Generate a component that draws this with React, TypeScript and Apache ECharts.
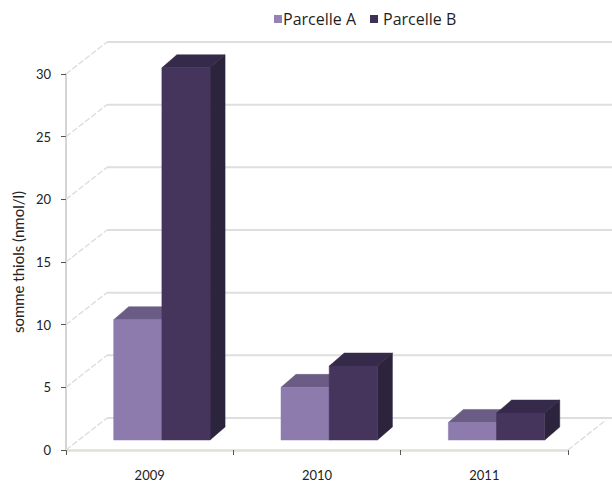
import React, { useEffect, useRef } from "react";
import * as echarts from "echarts";

const categories = ["2009", "2010", "2011"];
const parcelleA = [9.6, 4.2, 1.4];
const parcelleB = [29.7, 5.9, 2.15];
const wallTicks = [0, 5, 10, 15, 20, 25, 30];

// Offsets of the pseudo-3D projection, in pixels
const WALL_DX = 41;
const WALL_DY = 32;
const BAR_DX = 15;
const BAR_DY = 13;
const BAR_LIFT = 10;

const palette = {
  A: { front: "#8C7BAC", top: "#6B5C86", side: "#5A4C73", swatch: "#9484B4" },
  B: { front: "#45355C", top: "#352A4A", side: "#2C243C", swatch: "#3F3056" },
};

const poly = (points: number[][], fill: string) => ({
  type: "polygon",
  shape: { points },
  style: { fill, stroke: fill, lineWidth: 0.5 },
});

// Draws one cuboid; slot 0 is the left bar of a category, slot 1 the right one
const barRenderer = (slot: number, colors: typeof palette.A) => (_: any, api: any) => {
  const cat = api.value(0);
  const val = api.value(1);
  const band = api.size([1, 0])[0];
  const w = band * 0.288;
  const [cx, y0] = api.coord([cat, 0]);
  const [, yv] = api.coord([cat, val]);
  const left = cx - band * 0.215 + slot * w;
  const right = left + w;
  const base = y0 - BAR_LIFT;
  const top = yv - BAR_LIFT;
  return {
    type: "group",
    children: [
      poly([[left, top], [left + BAR_DX, top - BAR_DY], [right + BAR_DX, top - BAR_DY], [right, top]], colors.top),
      poly([[right, top], [right + BAR_DX, top - BAR_DY], [right + BAR_DX, base - BAR_DY], [right, base]], colors.side),
      poly([[left, top], [right, top], [right, base], [left, base]], colors.front),
    ],
  };
};

// Back wall and floor lines of the chart box
const wallRenderer = (params: any, api: any) => {
  const v = api.value(0);
  const cs = params.coordSys;
  const right = cs.x + cs.width;
  const [, y] = api.coord([0, v]);
  const children: any[] = [
    {
      type: "line",
      shape: { x1: cs.x, y1: y, x2: cs.x + WALL_DX, y2: y - WALL_DY },
      style: { stroke: "#DEDEDE", lineWidth: 1.4, lineDash: [6, 2] },
    },
    {
      type: "line",
      shape: { x1: cs.x + WALL_DX, y1: y - WALL_DY, x2: right + WALL_DX + 3, y2: y - WALL_DY },
      style: { stroke: "#DEDEDE", lineWidth: 2 },
    },
  ];
  if (v === 0) {
    children.push({
      type: "line",
      shape: { x1: right, y1: y, x2: right + WALL_DX - 3, y2: y - WALL_DY + 2 },
      style: { stroke: "#DEDEDE", lineWidth: 1.4, lineDash: [6, 2] },
    });
  }
  return { type: "group", children };
};

const legendBase = {
  top: 11,
  padding: 0,
  icon: "rect",
  itemWidth: 8,
  itemHeight: 8,
};
const legendFont = { fontFamily: "Open Sans", fontSize: 16, color: "#1F1F1F" };

export default function App() {
  const ref = useRef<HTMLDivElement>(null);

  useEffect(() => {
    const chart = echarts.init(ref.current!, null, { renderer: "svg" });
    chart.setOption({
      animation: false,
      backgroundColor: "#FFFFFF",
      textStyle: { fontFamily: "Lato" },
      grid: { left: 66, right: 44, top: 74, bottom: 33 },
      legend: [
        {
          ...legendBase,
          left: 274,
          data: [{ name: "Parcelle A", itemStyle: { color: palette.A.swatch } }],
          textStyle: { ...legendFont, padding: [0, 0, 0, -4] },
        },
        {
          ...legendBase,
          left: 370,
          data: [{ name: "Parcelle B", itemStyle: { color: palette.B.swatch } }],
          textStyle: legendFont,
        },
      ],
      xAxis: {
        type: "category",
        data: categories,
        axisLine: { lineStyle: { color: "#E0E0D8", width: 2.5 } },
        axisTick: { show: true, length: 5, lineStyle: { color: "#555555" } },
        axisLabel: { color: "#222222", fontSize: 13, margin: 18 },
      },
      yAxis: {
        type: "value",
        min: 0,
        max: 30,
        interval: 5,
        name: "somme thiols (nmol/l)",
        nameLocation: "middle",
        nameGap: 41,
        nameTextStyle: { color: "#222222", fontSize: 15 },
        axisLine: { show: true, lineStyle: { color: "#D4D4D4", width: 2 } },
        axisTick: { show: true, length: 5, lineStyle: { color: "#555555" } },
        axisLabel: { color: "#222222", fontSize: 13, margin: 15 },
        splitLine: { show: false },
      },
      series: [
        {
          name: "walls",
          type: "custom",
          silent: true,
          z: 1,
          data: wallTicks.map((v) => [v]),
          encode: { y: 0 },
          renderItem: wallRenderer,
        },
        {
          name: "Parcelle A",
          type: "custom",
          z: 2,
          itemStyle: { color: palette.A.swatch },
          data: parcelleA.map((v, i) => [i, v]),
          encode: { x: 0, y: 1 },
          renderItem: barRenderer(0, palette.A),
        },
        {
          name: "Parcelle B",
          type: "custom",
          z: 3,
          itemStyle: { color: palette.B.swatch },
          data: parcelleB.map((v, i) => [i, v]),
          encode: { x: 0, y: 1 },
          renderItem: barRenderer(1, palette.B),
        },
      ],
    });
    return () => chart.dispose();
  }, []);

  return <div ref={ref} style={{ position: "fixed", left: 0, top: 0, width: 612, height: 483 }} />;
}
